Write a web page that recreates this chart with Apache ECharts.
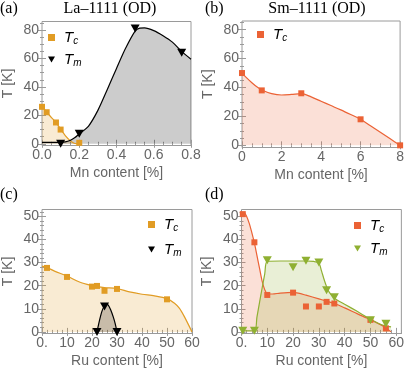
<!DOCTYPE html>
<html><head><meta charset="utf-8">
<script src="https://cdn.jsdelivr.net/npm/echarts@6/dist/echarts.min.js"></script>
<style>html,body{margin:0;padding:0;background:#fff}#c{width:407px;height:373px}</style>
</head><body><div id="c"></div>
<script>
// ---------- Panel (a) La-1111 (OD), Mn content ----------
const aTcPts = [[0, 26], [0.025, 22.2], [0.075, 15], [0.1, 10], [0.2, 0.7]];
const aTmPts = [[0.1, 0], [0.2, 7], [0.5, 81], [0.75, 64]];
const aTcCurve = [[0, 26.5], [0.025, 22.3], [0.05, 18.6], [0.075, 15], [0.1, 10.3], [0.125, 5.8], [0.15, 2.4], [0.17, 0.5], [0.185, 0.1], [0.2, 0.4]];
const aTmCurve = [[0, 1], [0.05, 1], [0.1, 1], [0.125, 1.3], [0.15, 2.3], [0.175, 4.2], [0.2, 7], [0.25, 12.5], [0.3, 23.5], [0.35, 38], [0.4, 53], [0.45, 67.5], [0.5, 79.3], [0.525, 81.3], [0.55, 81.5], [0.6, 79.6], [0.65, 76], [0.7, 71.5], [0.75, 65], [0.8, 59.5]];
// ---------- Panel (b) Sm-1111 (OD), Mn content ----------
const bTcPts = [[0, 50], [1, 38], [3, 36], [6, 18], [8, 0]];
const bTcCurve = [[0, 50], [0.25, 46.5], [0.5, 43.3], [0.75, 40.5], [1, 38.3], [1.5, 35.8], [2, 34.8], [2.5, 35.2], [3, 35.8], [3.5, 33.5], [4, 30.5], [4.5, 27.5], [5, 24.5], [5.5, 21.3], [6, 18], [6.5, 13.5], [7, 9], [7.5, 4.5], [8, 0]];
// ---------- Panel (c) Ru content ----------
const cTcPts = [[2, 27.7], [10, 23.8], [20, 19.6], [22, 19.9], [25, 17.8], [30, 18.6], [50, 14.1]];
const cTmPts = [[22, 0], [25, 11], [30, 0]];
const cTcCurve = [[0, 28.5], [2, 27.9], [5, 26.3], [10, 24.2], [15, 21.6], [20, 20], [22, 19.6], [25, 19.2], [30, 18.8], [35, 17.3], [40, 16.3], [45, 15.6], [50, 14.4], [53, 12.4], [55, 10.2], [57, 6.5], [60, 0]];
const cTmCurve = [[22, 0], [23, 5], [24, 9], [25, 11.3], [25.7, 12], [26.5, 11.6], [27.5, 9.5], [28.5, 6.5], [29.3, 3.5], [30, 0]];
// ---------- Panel (d) Ru content ----------
const dTcPts = [[0.5, 51], [5, 38.8], [10, 16], [20, 17], [25, 11], [30, 11], [33, 13], [36, 12.3], [50, 5.2], [56, 1.5]];
const dTmPts = [[0.5, 0.5], [5, 0.5], [10, 31], [20, 28], [25, 30.8], [30, 30], [33, 18], [36, 15], [50, 5], [56, 3.5]];
const dTcCurve = [[0, 51.5], [1, 51.5], [2, 50], [3, 47], [4, 43], [5, 38.5], [6, 33], [7, 27.5], [8, 22], [9, 18.3], [10, 16.5], [12, 16.4], [15, 16.8], [20, 17.1], [22, 16.8], [25, 15.9], [30, 14.3], [33, 13.3], [36, 12.3], [40, 10.4], [45, 7.8], [50, 5.3], [55, 2.4], [58, 0]];
const dTmCurve = [[0, 0.5], [5, 0.5], [6, 6.5], [7, 12.8], [8, 19], [9, 25], [10, 30.5], [15, 30.7], [20, 30.7], [25, 30.7], [28, 30.5], [30, 29.8], [31, 26.5], [32, 22.8], [33, 19.6], [34, 17.2], [36, 14.6], [40, 12], [45, 8.8], [50, 5.5], [55, 2.8], [58, 2.2]];
// ---------- tick labels ----------
const aXTicks = [0, 0.2, 0.4, 0.6, 0.8];
const aXMinor = [0.05, 0.1, 0.15, 0.25, 0.3, 0.35, 0.45, 0.5, 0.55, 0.65, 0.7, 0.75];
const bXTicks = [0, 2, 4, 6, 8];
const bXMinor = [0.5, 1, 1.5, 2.5, 3, 3.5, 4.5, 5, 5.5, 6.5, 7, 7.5];
const topYTicks = [0, 20, 40, 60, 80];
const topYMinor = [5, 10, 15, 25, 30, 35, 45, 50, 55, 65, 70, 75, 85];
const ruXTicks = [0, 10, 20, 30, 40, 50, 60];
const ruXMinor = [2, 4, 6, 8, 12, 14, 16, 18, 22, 24, 26, 28, 32, 34, 36, 38, 42, 44, 46, 48, 52, 54, 56, 58, 62];
const botYTicks = [0, 10, 20, 30, 40, 50];
const botYMinor = [2, 4, 6, 8, 12, 14, 16, 18, 22, 24, 26, 28, 32, 34, 36, 38, 42, 44, 46, 48, 52];

const ORANGE = '#E19C24', RED = '#EB6235', GREEN = '#8FB032', BLACK = '#000000';
const FR = '#9a9a9a', LAB = '#666666';
const SANS = 'Liberation Sans', SERIF = 'Liberation Serif';

const grids = [
  {left: 36, top: 21.5, width: 155, height: 124},
  {left: 242, top: 21, width: 160, height: 126.5},
  {left: 36, top: 209.5, width: 156, height: 124},
  {left: 241.5, top: 209.5, width: 160, height: 124}
].map(g => Object.assign(g, {show: true, borderColor: FR, borderWidth: 1, backgroundColor: 'transparent'}));

const xAxes = [], yAxes = [];
function axesFor(gi, xr, yr, xT, xM, yT, yM, xFmt, xName) {
  const base = (pos, isX, ticks, len, labels, extra) => Object.assign({
    type: 'value', gridIndex: gi, position: pos,
    min: isX ? xr[0] : yr[0], max: isX ? xr[1] : yr[1],
    axisLine: {show: false}, splitLine: {show: false},
    axisTick: {show: true, inside: true, length: len, customValues: ticks, lineStyle: {color: FR, width: 1}},
    axisLabel: labels ? Object.assign({show: true, customValues: ticks, color: LAB, fontFamily: SANS, fontSize: 14, margin: 3}, labels) : {show: false}
  }, extra || {});
  const xi = xAxes.length;
  xAxes.push(base('bottom', true, xT, 4, {formatter: xFmt}, {name: xName, nameLocation: 'middle', nameGap: 21, nameTextStyle: {color: LAB, fontFamily: SANS, fontSize: 14}}));
  xAxes.push(base('bottom', true, xM, 2, null));
  xAxes.push(base('top', true, xT, 4, null));
  xAxes.push(base('top', true, xM, 2, null));
  const yi = yAxes.length;
  yAxes.push(base('left', false, yT, 4, {formatter: v => String(v)}, {name: 'T [K]', nameLocation: 'middle', nameGap: 27, nameTextStyle: {color: LAB, fontFamily: SANS, fontSize: 14}}));
  yAxes.push(base('left', false, yM, 2, null));
  yAxes.push(base('right', false, yT, 4, null));
  yAxes.push(base('right', false, yM, 2, null));
  return [xi, yi];
}
const [ax, ay] = axesFor(0, [0, 0.8], [-1.2, 86], aXTicks, aXMinor, topYTicks, topYMinor, v => v.toFixed(1), 'Mn content [%]');
const [bx, by] = axesFor(1, [0, 8], [-1.5, 86], bXTicks, bXMinor, topYTicks, topYMinor, v => String(v), 'Mn content [%]');
const ruFmt = v => v === 0 ? '0.' : String(v);
const [cx, cy] = axesFor(2, [0, 60], [-0.7, 53], ruXTicks, ruXMinor, botYTicks, botYMinor, ruFmt, 'Ru content [%]');
const [dx, dy] = axesFor(3, [0, 62], [-0.7, 53], ruXTicks, ruXMinor, botYTicks, botYMinor, ruFmt, 'Ru content [%]');

function curve(xi, yi, data, color) {
  return {type: 'line', xAxisIndex: xi, yAxisIndex: yi, data: data, smooth: 0.3, showSymbol: false, symbol: 'none',
    lineStyle: {color: color, width: 1.2}, areaStyle: {color: color, opacity: 0.2, origin: 0}, silent: true, z: 2};
}
const TRI = 'path://M0,0L10,0L5,8.66Z';
function marks(name, xi, yi, data, color, tri) {
  return {type: 'scatter', name: name, xAxisIndex: xi, yAxisIndex: yi, data: data,
    symbol: tri ? TRI : 'rect', symbolSize: tri ? [9, 8] : 6, itemStyle: {color: color, opacity: 1}, z: 5, silent: true};
}
const series = [
  curve(ax, ay, aTcCurve, ORANGE), curve(ax, ay, aTmCurve, BLACK),
  marks('aTc', ax, ay, aTcPts, ORANGE, false), marks('aTm', ax, ay, aTmPts, BLACK, true),
  curve(bx, by, bTcCurve, RED), marks('bTc', bx, by, bTcPts, RED, false),
  curve(cx, cy, cTcCurve, ORANGE), curve(cx, cy, cTmCurve, BLACK),
  marks('cTc', cx, cy, cTcPts, ORANGE, false), marks('cTm', cx, cy, cTmPts, BLACK, true),
  curve(dx, dy, dTcCurve, RED), curve(dx, dy, dTmCurve, GREEN),
  marks('dTc', dx, dy, dTcPts, RED, false), marks('dTm', dx, dy, dTmPts, GREEN, true)
];

const rich = {
  t: {fontFamily: SANS, fontStyle: 'italic', fontSize: 15, color: '#000', lineHeight: 18, padding: [0, 0, 0, 4]},
  s: {fontFamily: SANS, fontStyle: 'italic', fontSize: 10, color: '#000', lineHeight: 18, padding: [7, 0, 0, 0]}
};
function legend(left, top, names, gap) {
  return {left: left, top: top, padding: 0, orient: 'vertical', itemWidth: 7, itemHeight: 7, itemGap: gap, selectedMode: false,
    data: names.map(n => ({name: n, icon: n.endsWith('m') ? TRI : 'rect'})),
    formatter: n => n.endsWith('c') ? '{t|T}{s|c}' : '{t|T}{s|m}',
    textStyle: {rich: rich}};
}
const legends = [
  legend(48, 29, ['aTc', 'aTm'], 5),
  legend(257, 26, ['bTc'], 5),
  legend(148, 216, ['cTc', 'cTm'], 8),
  legend(354, 217, ['dTc', 'dTm'], 6)
];

const tStyle = {fontFamily: SERIF, fontSize: 16, fontWeight: 'normal', color: '#000'};
const titles = [
  {text: '(a)', left: 0, top: 1, textStyle: tStyle},
  {text: 'La–1111 (OD)', left: 110, top: 1, textAlign: 'center', textStyle: tStyle},
  {text: '(b)', left: 205, top: 1, textStyle: tStyle},
  {text: 'Sm–1111 (OD)', left: 317, top: 1, textAlign: 'center', textStyle: tStyle},
  {text: '(c)', left: 0, top: 187, textStyle: tStyle},
  {text: '(d)', left: 205, top: 187, textStyle: tStyle}
].map(t => Object.assign(t, {padding: 0}));

const chart = echarts.init(document.getElementById('c'), null, {renderer: 'canvas'});
chart.setOption({animation: false, title: titles, grid: grids, xAxis: xAxes, yAxis: yAxes, legend: legends, series: series});
</script></body></html>
